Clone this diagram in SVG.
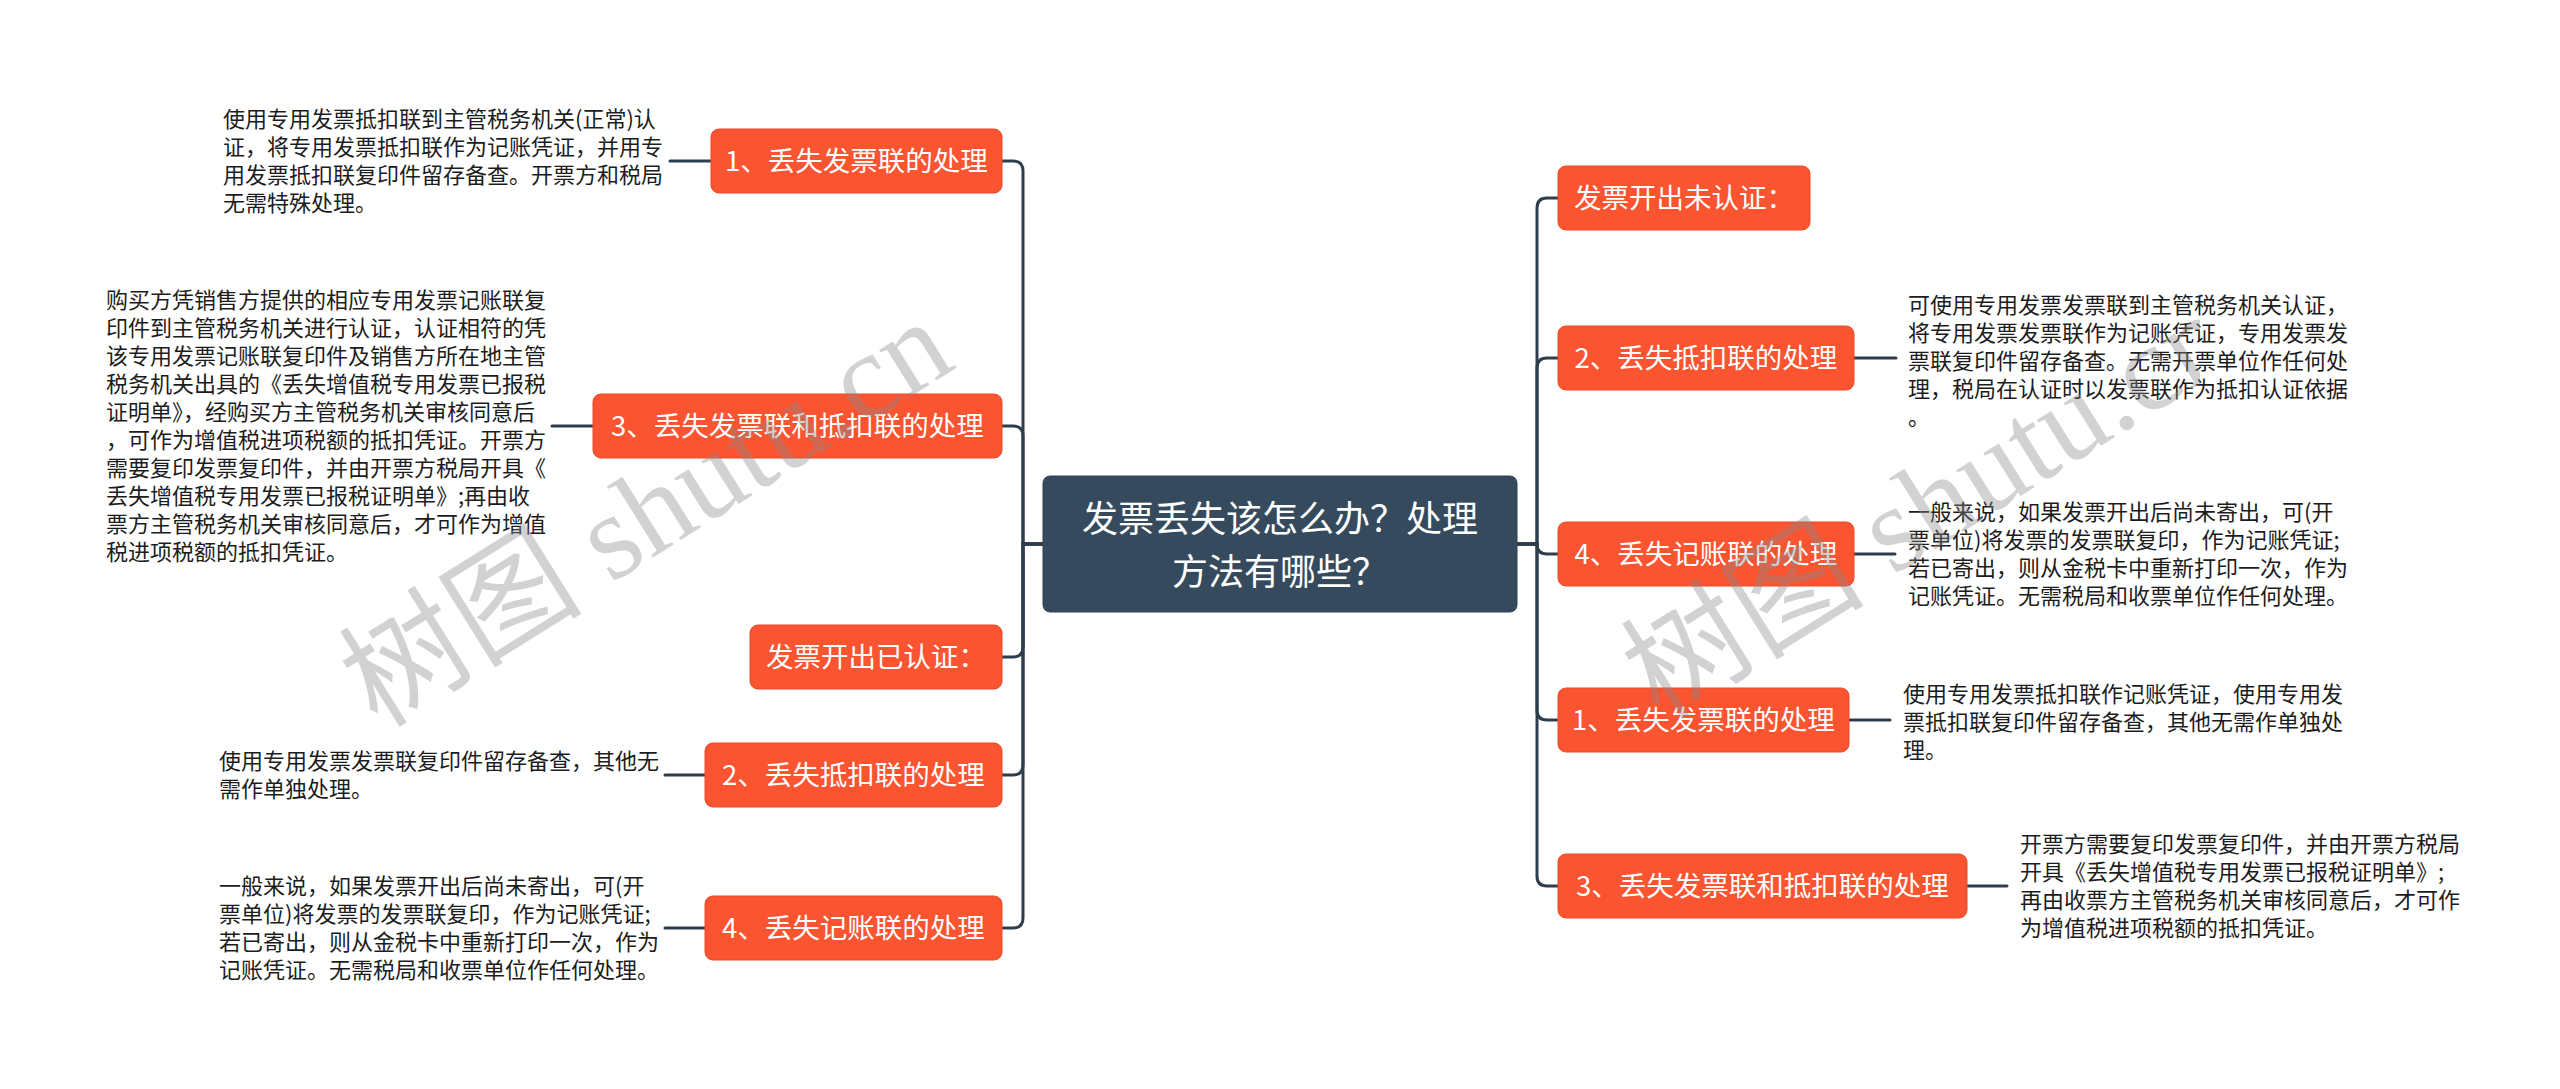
<svg xmlns="http://www.w3.org/2000/svg" width="2560" height="1089" viewBox="0 0 2560 1089">
<defs>
<style>
.bg{fill:#ffffff}
.center rect{fill:#364a5d;stroke:#2f4152;stroke-width:1}
.center text{fill:#ffffff;font-family:"Noto Sans CJK SC","Noto Sans",sans-serif;font-size:36px;text-anchor:middle}
.topic rect{fill:#fa5431;stroke:#ec4a29;stroke-width:1}
.topic text{fill:#ffffff;font-family:"Noto Sans CJK SC","Noto Sans",sans-serif;font-size:27.5px;text-anchor:middle}
.leaf text{fill:#1c1c1c;font-family:"Noto Sans CJK SC","Noto Sans",sans-serif;font-size:22px}
.conn path,.conn line{fill:none;stroke:#2e3d4c;stroke-width:3;stroke-linecap:round}
.wm{fill:#8a8a8a;fill-opacity:0.38;font-family:"Liberation Serif","Noto Sans CJK SC",serif;font-size:122px;text-anchor:middle}
</style>
<clipPath id="wmclip"><rect x="1500" y="0" width="700" height="1089"/></clipPath>
</defs>
<rect class="bg" x="0" y="0" width="2560" height="1089"/>

<g id="connectors" class="conn">
<path d="M1043,544 H1023 V171 Q1023,161 1013,161 H1002"/>
<path d="M1043,544 H1023 V436 Q1023,426 1013,426 H1002"/>
<path d="M1043,544 H1023 V647 Q1023,657 1013,657 H1002"/>
<path d="M1043,544 H1023 V765 Q1023,775 1013,775 H1002"/>
<path d="M1043,544 H1023 V918 Q1023,928 1013,928 H1002"/>
<path d="M1517,544 H1537 V208 Q1537,198 1547,198 H1558"/>
<path d="M1517,544 H1537 V368 Q1537,358 1547,358 H1558"/>
<path d="M1517,544 H1537 V544 Q1537,554 1547,554 H1558"/>
<path d="M1517,544 H1537 V710 Q1537,720 1547,720 H1558"/>
<path d="M1517,544 H1537 V876 Q1537,886 1547,886 H1558"/>
<line x1="670" y1="161" x2="711" y2="161"/>
<line x1="552" y1="426" x2="593" y2="426"/>
<line x1="665" y1="775" x2="705" y2="775"/>
<line x1="665" y1="928" x2="705" y2="928"/>
<line x1="1854" y1="358" x2="1896" y2="358"/>
<line x1="1854" y1="554" x2="1895" y2="554"/>
<line x1="1849" y1="720" x2="1890" y2="720"/>
<line x1="1967" y1="886" x2="2007" y2="886"/>
</g>

<g id="root" class="center">
<rect x="1043" y="476" width="474" height="136" rx="7"/>
<text x="1280" y="532">发票丢失该怎么办？处理</text>
<text x="1280" y="585">方法有哪些？</text>
</g>

<g id="L1" class="topic">
<rect x="711" y="129" width="291" height="64" rx="8"/>
<text x="856.5" y="171">1、丢失发票联的处理</text>
</g>
<g id="L2" class="topic">
<rect x="593" y="394" width="409" height="64" rx="8"/>
<text x="797.5" y="436">3、丢失发票联和抵扣联的处理</text>
</g>
<g id="L3" class="topic">
<rect x="750" y="625" width="252" height="64" rx="8"/>
<text x="876" y="667">发票开出已认证：</text>
</g>
<g id="L4" class="topic">
<rect x="705" y="743" width="297" height="64" rx="8"/>
<text x="853.5" y="785">2、丢失抵扣联的处理</text>
</g>
<g id="L5" class="topic">
<rect x="705" y="896" width="297" height="64" rx="8"/>
<text x="853.5" y="938">4、丢失记账联的处理</text>
</g>

<g id="R1" class="topic">
<rect x="1558" y="166" width="252" height="64" rx="8"/>
<text x="1684" y="208">发票开出未认证：</text>
</g>
<g id="R2" class="topic">
<rect x="1558" y="326" width="296" height="64" rx="8"/>
<text x="1706" y="368">2、丢失抵扣联的处理</text>
</g>
<g id="R3" class="topic">
<rect x="1558" y="522" width="296" height="64" rx="8"/>
<text x="1706" y="564">4、丢失记账联的处理</text>
</g>
<g id="R4" class="topic">
<rect x="1558" y="688" width="291" height="64" rx="8"/>
<text x="1703.5" y="730">1、丢失发票联的处理</text>
</g>
<g id="R5" class="topic">
<rect x="1558" y="854" width="409" height="64" rx="8"/>
<text x="1762.5" y="896">3、丢失发票联和抵扣联的处理</text>
</g>

<g id="L1-note" class="leaf">
<text x="223" y="127">使用专用发票抵扣联到主管税务机关(正常)认</text>
<text x="223" y="155">证，将专用发票抵扣联作为记账凭证，并用专</text>
<text x="223" y="183">用发票抵扣联复印件留存备查。开票方和税局</text>
<text x="223" y="211">无需特殊处理。</text>
</g>
<g id="L2-note" class="leaf">
<text x="106" y="308">购买方凭销售方提供的相应专用发票记账联复</text>
<text x="106" y="336">印件到主管税务机关进行认证，认证相符的凭</text>
<text x="106" y="364">该专用发票记账联复印件及销售方所在地主管</text>
<text x="106" y="392">税务机关出具的《丢失增值税专用发票已报税</text>
<text x="106" y="420">证明单》，经购买方主管税务机关审核同意后</text>
<text x="106" y="448">，可作为增值税进项税额的抵扣凭证。开票方</text>
<text x="106" y="476">需要复印发票复印件，并由开票方税局开具《</text>
<text x="106" y="504">丢失增值税专用发票已报税证明单》;再由收</text>
<text x="106" y="532">票方主管税务机关审核同意后，才可作为增值</text>
<text x="106" y="560">税进项税额的抵扣凭证。</text>
</g>
<g id="L4-note" class="leaf">
<text x="219" y="769">使用专用发票发票联复印件留存备查，其他无</text>
<text x="219" y="797">需作单独处理。</text>
</g>
<g id="L5-note" class="leaf">
<text x="219" y="894">一般来说，如果发票开出后尚未寄出，可(开</text>
<text x="219" y="922">票单位)将发票的发票联复印，作为记账凭证;</text>
<text x="219" y="950">若已寄出，则从金税卡中重新打印一次，作为</text>
<text x="219" y="978">记账凭证。无需税局和收票单位作任何处理。</text>
</g>

<g id="R2-note" class="leaf">
<text x="1908" y="313">可使用专用发票发票联到主管税务机关认证，</text>
<text x="1908" y="341">将专用发票发票联作为记账凭证，专用发票发</text>
<text x="1908" y="369">票联复印件留存备查。无需开票单位作任何处</text>
<text x="1908" y="397">理，税局在认证时以发票联作为抵扣认证依据</text>
<text x="1908" y="425">。</text>
</g>
<g id="R3-note" class="leaf">
<text x="1908" y="520">一般来说，如果发票开出后尚未寄出，可(开</text>
<text x="1908" y="548">票单位)将发票的发票联复印，作为记账凭证;</text>
<text x="1908" y="576">若已寄出，则从金税卡中重新打印一次，作为</text>
<text x="1908" y="604">记账凭证。无需税局和收票单位作任何处理。</text>
</g>
<g id="R4-note" class="leaf">
<text x="1903" y="702">使用专用发票抵扣联作记账凭证，使用专用发</text>
<text x="1903" y="730">票抵扣联复印件留存备查，其他无需作单独处</text>
<text x="1903" y="758">理。</text>
</g>
<g id="R5-note" class="leaf">
<text x="2020" y="852">开票方需要复印发票复印件，并由开票方税局</text>
<text x="2020" y="880">开具《丢失增值税专用发票已报税证明单》;</text>
<text x="2020" y="908">再由收票方主管税务机关审核同意后，才可作</text>
<text x="2020" y="936">为增值税进项税额的抵扣凭证。</text>
</g>

<g id="watermarks">
<text class="wm" x="668" y="548" transform="rotate(-32 668 548)">树图 shutu.cn</text>
<g clip-path="url(#wmclip)">
<text class="wm" x="1950" y="540" transform="rotate(-32 1950 540)">树图 shutu.cn</text>
</g>
</g>
</svg>
